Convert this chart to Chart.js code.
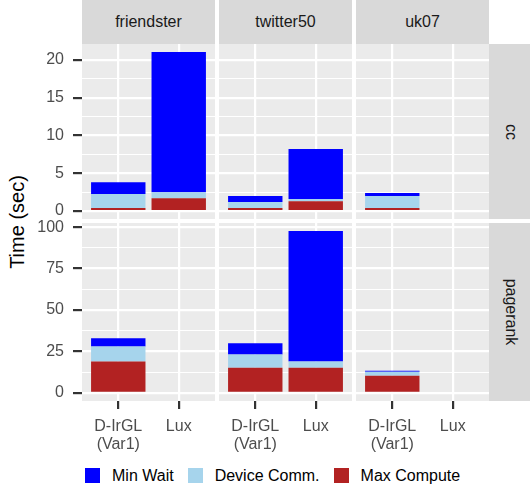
<!DOCTYPE html>
<html>
<head>
<meta charset="utf-8">
<script src="https://cdn.jsdelivr.net/npm/chart.js@4.4.1/dist/chart.umd.min.js"></script>
<style>
  body { margin: 0; width: 530px; height: 490px; overflow: hidden; background: #fff; position: relative;
         font-family: "Liberation Sans", Arial, sans-serif; }
  .strip { position: absolute; background: #D9D9D9; color: #1A1A1A; font-size: 16px;
           display: flex; align-items: center; justify-content: center; white-space: nowrap; }
  .strip.side span { display: block; transform: rotate(90deg); }
  #ytitle { position: absolute; left: 17px; top: 222px; font-size: 20px; color: #000; white-space: nowrap;
            transform: translate(-50%, -50%) rotate(-90deg); }
  #legend { position: absolute; left: 85px; top: 468px; height: 15px; display: flex; align-items: center;
            font-size: 16px; color: #000; white-space: nowrap; }
  #legend .key { width: 15px; height: 15px; margin-right: 12px; }
  #legend .lab { margin-right: 14px; }
</style>
</head>
<body>
<div id="ytitle">Time (sec)</div>
<div id="legend"></div>
<script>
// facets
const columns = ["friendster", "twitter50", "uk07"];
const rows = ["cc", "pagerank"];
const categories = [["D-IrGL", "(Var1)"], ["Lux"]];

// series, bottom of the stack first
const seriesNames = ["Max Compute", "Device Comm.", "Min Wait"];
const seriesColors = ["#B22222", "#A6D4EC", "#0000FF"];
const legendOrder = ["Min Wait", "Device Comm.", "Max Compute"];

// one [D-IrGL, Lux] pair per column (friendster, twitter50, uk07)
const ccMaxCompute = [[0.4, 1.7], [0.4, 1.3], [0.4, null]];
const ccDeviceComm = [[1.85, 0.8], [0.8, 0.3], [1.6, null]];
const ccMinWait = [[1.55, 18.55], [0.8, 6.6], [0.4, null]];
const prMaxCompute = [[18.9, null], [15.2, 15.2], [10.4, null]];
const prDeviceComm = [[9.1, null], [8.0, 3.7], [2.4, null]];
const prMinWait = [[4.9, null], [6.7, 78.7], [0.6, null]];

const ccTicks = [0, 5, 10, 15, 20];
const prTicks = [0, 25, 50, 75, 100];

// layout of the panels (px)
const panelLeft = [82, 219, 356];
const panelW = 133;
const rowTop = [44, 223];
const rowH = [175, 178];
const PAD = 10;
const XAXIS_H = 54;

const rowSeries = [[ccMaxCompute, ccDeviceComm, ccMinWait], [prMaxCompute, prDeviceComm, prMinWait]];
const rowTicks = [ccTicks, prTicks];

// ggplot style 5% expansion of the largest stack in each row
function rowRange(series) {
  let max = 0;
  columns.forEach((_, c) => categories.forEach((_, k) => {
    let t = 0;
    series.forEach(s => { t += s[c][k] || 0; });
    max = Math.max(max, t);
  }));
  return [-0.05 * max, 1.05 * max];
}

function withMinors(majors) {
  const out = [];
  majors.forEach((v, i) => {
    out.push(v);
    if (i < majors.length - 1) out.push((v + majors[i + 1]) / 2);
  });
  return out;
}

const panelBg = {
  id: "panelBg",
  beforeDraw(chart) {
    const { ctx, chartArea: a } = chart;
    ctx.save();
    ctx.fillStyle = "#EBEBEB";
    ctx.fillRect(a.left, a.top, a.right - a.left, a.bottom - a.top);
    ctx.restore();
  }
};

Chart.defaults.font.family = '"Liberation Sans", Arial, sans-serif';

function makePanel(r, c) {
  const yAxisW = c === 0 ? panelLeft[0] : 0;
  const xAxisH = r === rows.length - 1 ? XAXIS_H : 0;
  const w = panelW + yAxisW;
  const h = PAD + rowH[r] + xAxisH;
  const cv = document.createElement("canvas");
  cv.width = w;
  cv.height = h;
  cv.style.cssText = `position:absolute;left:${panelLeft[c] - yAxisW}px;top:${rowTop[r] - PAD}px;width:${w}px;height:${h}px`;
  document.body.appendChild(cv);

  const series = rowSeries[r];
  const majors = rowTicks[r];
  const [lo, hi] = rowRange(series);
  const isMajor = v => majors.includes(v);

  new Chart(cv, {
    type: "bar",
    data: {
      datasets: seriesNames.map((name, s) => ({
        label: name,
        data: categories.map((_, k) => ({ x: k + 1, y: series[s][c][k] })),
        backgroundColor: seriesColors[s],
        borderWidth: 0,
        categoryPercentage: 1,
        barPercentage: 0.9
      }))
    },
    options: {
      responsive: false,
      animation: false,
      devicePixelRatio: 1,
      layout: { padding: { top: PAD, left: 0, right: 0, bottom: 0 } },
      plugins: { legend: { display: false }, tooltip: { enabled: false } },
      scales: {
        x: {
          type: "linear",
          min: 0.4,
          max: 2.6,
          stacked: true,
          offset: false,
          border: { display: false },
          grid: { offset: false, color: "#FFFFFF", lineWidth: 2.2, drawTicks: xAxisH > 0,
                  tickLength: 8, tickColor: "#333333", tickWidth: 2.2 },
          ticks: { display: xAxisH > 0, autoSkip: false, maxRotation: 0, minRotation: 0, padding: 8,
                   color: "#4D4D4D", font: { size: 16, lineHeight: 1.15 },
                   callback: v => categories[Math.round(v) - 1] },
          afterBuildTicks: s => { s.ticks = categories.map((_, k) => ({ value: k + 1 })); },
          afterFit: s => { s.height = xAxisH; s.paddingLeft = 0; s.paddingRight = 0; }
        },
        y: {
          type: "linear",
          min: lo,
          max: hi,
          stacked: true,
          border: { display: false },
          grid: { color: "#FFFFFF", drawTicks: yAxisW > 0, tickLength: 9, tickWidth: 2.2,
                  lineWidth: ctx => isMajor(ctx.tick.value) ? 2.2 : 1.1,
                  tickColor: ctx => isMajor(ctx.tick.value) ? "#333333" : "rgba(0,0,0,0)" },
          ticks: { display: yAxisW > 0, autoSkip: false, padding: 9, color: "#4D4D4D", font: { size: 16 },
                   callback: v => isMajor(v) ? String(v) : "" },
          afterBuildTicks: s => { s.ticks = withMinors(majors).map(v => ({ value: v })); },
          afterFit: s => { s.width = yAxisW; s.paddingTop = 0; s.paddingBottom = 0; }
        }
      }
    },
    plugins: [panelBg]
  });
}

// strips
columns.forEach((name, c) => {
  const d = document.createElement("div");
  d.className = "strip";
  d.style.cssText = `left:${panelLeft[c]}px;top:0;width:${panelW}px;height:${rowTop[0]}px`;
  d.textContent = name;
  document.body.appendChild(d);
});
rows.forEach((name, r) => {
  const d = document.createElement("div");
  d.className = "strip side";
  d.style.cssText = `left:${panelLeft[2] + panelW}px;top:${rowTop[r]}px;width:44px;height:${rowH[r]}px`;
  const sp = document.createElement("span");
  sp.textContent = name;
  d.appendChild(sp);
  document.body.appendChild(d);
});

rows.forEach((_, r) => columns.forEach((_, c) => makePanel(r, c)));

// legend
const legend = document.getElementById("legend");
legendOrder.forEach(name => {
  const key = document.createElement("div");
  key.className = "key";
  key.style.background = seriesColors[seriesNames.indexOf(name)];
  const lab = document.createElement("div");
  lab.className = "lab";
  lab.textContent = name;
  legend.appendChild(key);
  legend.appendChild(lab);
});
</script>
</body>
</html>
